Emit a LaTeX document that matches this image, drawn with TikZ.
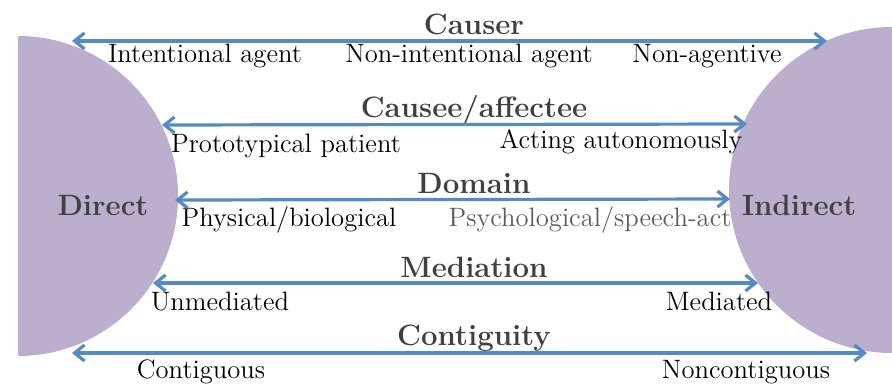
\documentclass[tikz,border=0pt]{standalone}
\usepackage{tikz}
\usetikzlibrary{arrows.meta}

\definecolor{discpurple}{RGB}{188,175,205}
\definecolor{linkblue}{RGB}{86,138,196}
\definecolor{headgray}{RGB}{64,64,64}
\definecolor{softgray}{RGB}{90,90,90}

\begin{document}
\begin{tikzpicture}[ x = 0.5pt
                   , y = -0.5pt
                   , font = \fontsize{13.3}{16}\selectfont
                   , >={Straight Barb[length=5pt, width=8pt]}
                   , every node/.style = { inner sep = 0pt
                                       , anchor = base }
                   ]

  %%
  %% Styles
  %%
  \tikzset{ dim/.style={font=\fontsize{14.7}{17}\selectfont\bfseries, text=headgray}
          , pole/.style={font=\fontsize{14.7}{17}\selectfont\bfseries, text=headgray}
          , value/.style={text=black}
          , faint/.style={text=softgray}
          , link/.style={draw=linkblue, line width=1.6pt, <->}
          , disc/.style={fill=discpurple, draw=none}
          }

  \useasboundingbox (0,0) rectangle (892,385);

  %%
  %% Discs (cut off at the edges)
  %%
  \begin{scope}
    \clip (18,0) rectangle (892,385);
    \fill[disc] (18,196) circle (80pt);
    \fill[disc] (892,190) circle (81.5pt);
  \end{scope}

  %%
  %% Nodes
  %%
  \node (direct) [pole] at (103,215) {Direct};
  \node (indirect) [pole] at (799,215) {Indirect};

  \node (causer) [dim] at (474,35) {Causer};
  \node (intent) [value] at (205,63) {Intentional agent};
  \node (nonintent) [value] at (469,62) {Non-intentional agent};
  \node (nonagent) [value] at (707,62) {Non-agentive};

  \node (causee) [dim] at (474,118) {Causee/affectee};
  \node (patient) [value] at (286,152) {Prototypical patient};
  \node (autonom) [value] at (621,148) {Acting autonomously};

  \node (domain) [dim] at (474,193) {Domain};
  \node (physical) [value] at (289,226) {Physical/biological};
  \node (psych) [faint] at (590,226) {Psychological/speech-act};

  \node (mediation) [dim] at (474,277) {Mediation};
  \node (unmed) [value] at (220,310) {Unmediated};
  \node (med) [value] at (719,310) {Mediated};

  \node (contiguity) [dim] at (474,345) {Contiguity};
  \node (contig) [value] at (201,378) {Contiguous};
  \node (noncontig) [value] at (746,378) {Noncontiguous};

  %%
  %% Arrows
  %%
  \coordinate (causerL) at (72,41);
  \coordinate (causerR) at (827,41);
  \coordinate (causeeL) at (162,125);
  \coordinate (causeeR) at (747,124);
  \coordinate (domainL) at (175,200);
  \coordinate (domainR) at (730,199);
  \coordinate (mediationL) at (153,283);
  \coordinate (mediationR) at (758,283);
  \coordinate (contiguityL) at (72,353);
  \coordinate (contiguityR) at (867,353);

  \draw[link] (causerL) -- (causerR);
  \draw[link] (causeeL) -- (causeeR);
  \draw[link] (domainL) -- (domainR);
  \draw[link] (mediationL) -- (mediationR);
  \draw[link] (contiguityL) -- (contiguityR);
\end{tikzpicture}
\end{document}
